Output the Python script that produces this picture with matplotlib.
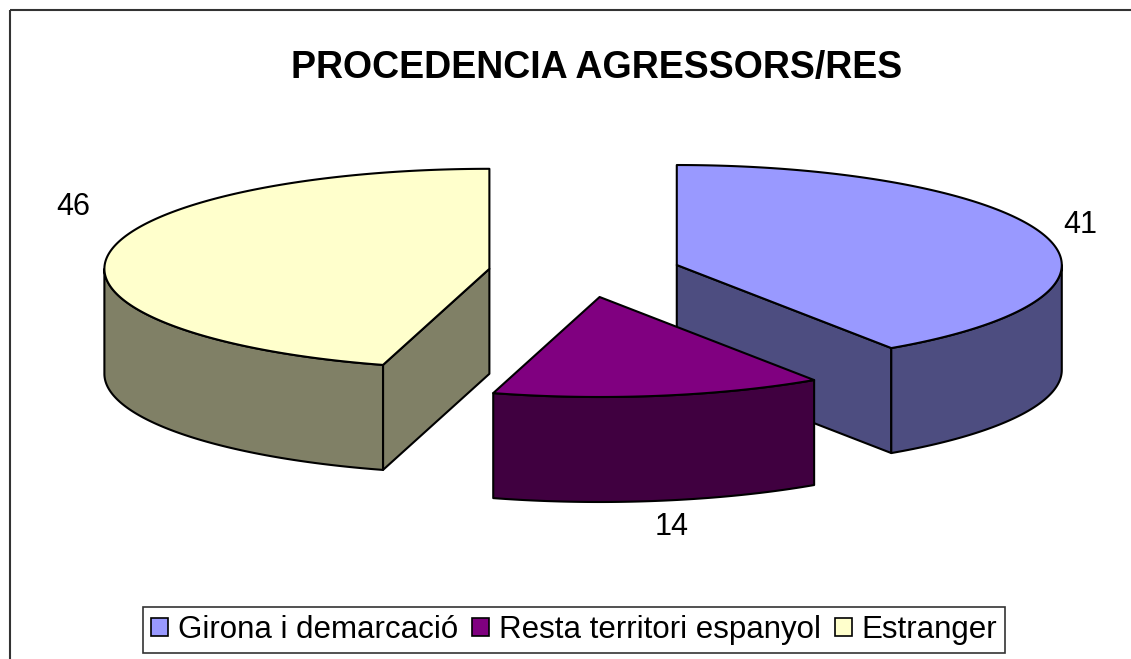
import matplotlib
matplotlib.use("Agg")
import matplotlib.pyplot as plt
from matplotlib.patches import Polygon, Patch, Rectangle
import numpy as np

plt.rcParams['font.family'] = ['Liberation Sans', 'DejaVu Sans']

# data
categories = ["Girona i demarcació", "Resta territori espanyol", "Estranger"]
values = [41, 14, 46]
top_colors = ["#9999FF", "#800080", "#FFFFCC"]
side_colors = ["#4D4D80", "#400040", "#808066"]
title = "PROCEDENCIA AGRESSORS/RES"

# layout of the 3d pie (pixel units, y pointing down)
cx, cy = 584.7, 272.3
ra, rb = 385.0, 100.0
depth = 105.0
explode = 0.25
label_pos = [(1080, 225), (672, 527), (73, 207)]

fig = plt.figure(figsize=(11.31, 6.59), dpi=100)
ax = fig.add_axes([0, 0, 1, 1])
ax.set_xlim(0, 1131)
ax.set_ylim(659, 0)
ax.axis("off")


def pt(c, th, dz=0.0):
    t = np.radians(th)
    return (c[0] + ra * np.sin(t), c[1] - rb * np.cos(t) + dz)


def arc(c, t1, t2, dz=0.0):
    ts = np.linspace(t1, t2, max(2, int(abs(t2 - t1) * 2)))
    return [pt(c, t, dz) for t in ts]


total = float(sum(values))
bounds = np.concatenate([[0], np.cumsum(values)]) / total * 360.0

slices = []
for i, v in enumerate(values):
    t1, t2 = bounds[i], bounds[i + 1]
    tm = np.radians((t1 + t2) / 2)
    c = (cx + explode * ra * np.sin(tm), cy - explode * rb * np.cos(tm))
    slices.append((c[1], i, t1, t2, c))

kw = dict(edgecolor="black", linewidth=1.5, joinstyle="round")
for _, i, t1, t2, c in sorted(slices):
    # visible radial faces
    if np.sin(np.radians(t1)) < -1e-6:
        p = pt(c, t1)
        ax.add_patch(Polygon([c, p, (p[0], p[1] + depth), (c[0], c[1] + depth)],
                             facecolor=side_colors[i], **kw))
    if np.sin(np.radians(t2)) > 1e-6:
        p = pt(c, t2)
        ax.add_patch(Polygon([c, p, (p[0], p[1] + depth), (c[0], c[1] + depth)],
                             facecolor=side_colors[i], **kw))
    # front outer side
    s1, s2 = max(t1, 90), min(t2, 270)
    if s2 > s1:
        pts = arc(c, s1, s2) + arc(c, s1, s2, depth)[::-1]
        ax.add_patch(Polygon(pts, facecolor=side_colors[i], **kw))
    # top
    ax.add_patch(Polygon([c] + arc(c, t1, t2), facecolor=top_colors[i], **kw))

for i, v in enumerate(values):
    ax.text(label_pos[i][0], label_pos[i][1], str(v), fontsize=22,
            ha="center", va="center")

ax.text(597, 68, title, fontsize=27, fontweight="bold", ha="center", va="center")

# outer chart frame
ax.add_patch(Rectangle((10, 10), 1300, 800, fill=False, edgecolor="#333333",
                       linewidth=1.5))

handles = [Patch(facecolor=top_colors[i], edgecolor="black", linewidth=1.2)
           for i in range(len(categories))]
leg = fig.legend(handles, categories, loc="center", ncol=3,
                 bbox_to_anchor=(574 / 1131, 1 - 630 / 659), fontsize=22.5,
                 frameon=True, fancybox=False, edgecolor="black",
                 handlelength=0.55, handleheight=0.55, handletextpad=0.3,
                 columnspacing=0.45, borderpad=0.25, borderaxespad=0)
leg.get_frame().set_linewidth(1.2)

fig.savefig("out.png", dpi=100)
